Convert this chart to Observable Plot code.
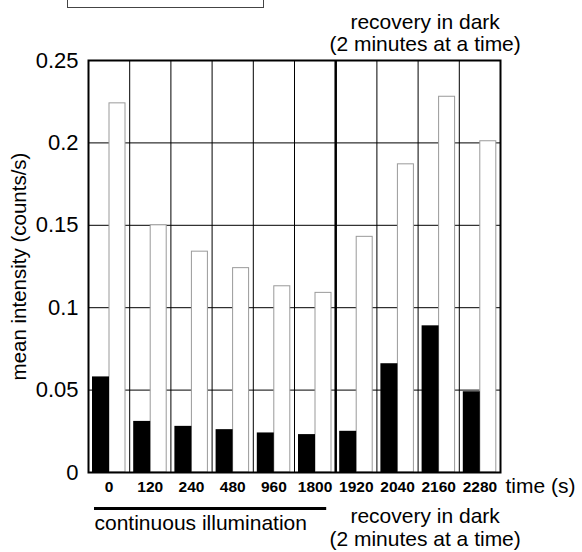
<!DOCTYPE html>
<html>
<head>
<meta charset="utf-8">
<script src="https://cdn.jsdelivr.net/npm/d3@7"></script>
<script src="https://cdn.jsdelivr.net/npm/@observablehq/plot@0.6"></script>
<style>
  html, body { margin: 0; padding: 0; background: #fff; }
  #wrap { position: relative; width: 582px; height: 552px; overflow: hidden; font-family: "Liberation Sans", Arial, sans-serif; }
  #legendbox { position: absolute; left: 67px; top: -22px; width: 195px; height: 28px; border: 1.5px solid #444; background: #fff; }
</style>
</head>
<body>
<div id="wrap"><div id="legendbox"></div></div>
<script>
// ---- data ----
const categories = ["0", "120", "240", "480", "960", "1800", "1920", "2040", "2160", "2280"];
const filledValues = [0.058, 0.031, 0.028, 0.026, 0.024, 0.023, 0.025, 0.066, 0.089, 0.049];
const openValues   = [0.224, 0.150, 0.134, 0.124, 0.113, 0.109, 0.143, 0.187, 0.228, 0.201];
const yTicks = [0, 0.05, 0.1, 0.15, 0.2, 0.25];
const yTickLabels = ["0", "0.05", "0.1", "0.15", "0.2", "0.25"];
const yLabel = "mean intensity (counts/s)";
const xUnitLabel = "time (s)";
const phaseLabels = ["continuous illumination", "recovery in dark\n(2 minutes at a time)"];
const darkStart = "1920";

const data = categories.map((c, i) => ({cat: c, i, filled: filledValues[i], open: openValues[i]}));
const n = categories.length;
const split = categories.indexOf(darkStart);
const centers = d3.range(n).map(i => i + 0.5);
const font = 21;

const chart = Plot.plot({
  width: 582,
  height: 552,
  marginTop: 60,
  marginBottom: 80,
  marginLeft: 88,
  marginRight: 82,
  style: {fontFamily: '"Liberation Sans", Arial, sans-serif', fontSize: font + "px", color: "#000", background: "transparent"},
  x: {domain: [0, n]},
  y: {domain: [0, 0.25]},
  marks: [
    Plot.gridY({ticks: yTicks.slice(1, -1), stroke: "#000", strokeOpacity: 1, strokeWidth: 1}),
    Plot.gridX({ticks: d3.range(1, n), stroke: "#000", strokeOpacity: 1, strokeWidth: 1}),
    Plot.rectY(data, {x1: d => d.i, x2: d => d.i + 1, y: "open", fill: "#fff", stroke: "#9a9a9a", strokeWidth: 1, insetLeft: 21, insetRight: 4.2}),
    Plot.rectY(data, {x1: d => d.i, x2: d => d.i + 1, y: "filled", fill: "#000", insetLeft: 4, insetRight: 20.2}),
    Plot.ruleX([split], {stroke: "#000", strokeWidth: 2.5}),
    Plot.frame({stroke: "#000", strokeWidth: 2}),
    Plot.axisY({ticks: yTicks, tickFormat: d => yTickLabels[yTicks.indexOf(d)], tickSize: 0, tickPadding: 10, label: null, fontSize: 22}),
    Plot.axisX({ticks: centers, tickFormat: d => categories[Math.floor(d)], tickSize: 0, tickPadding: 8, label: null, fontWeight: "bold", fontSize: 15.5}),
    Plot.text([yLabel], {text: d => d, frameAnchor: "left", textAnchor: "middle", lineAnchor: "middle", rotate: -90, dx: -69, fontSize: 20.5}),
    Plot.text([xUnitLabel], {text: d => d, frameAnchor: "bottom-right", textAnchor: "start", lineAnchor: "middle", dx: 5, dy: 14, fontSize: font}),
    // phase annotations
    Plot.ruleY([0], {x1: 0, x2: split, stroke: "#000", strokeWidth: 3, insetLeft: 6, insetRight: 9, dy: 36}),
    Plot.text([phaseLabels[0]], {text: d => d, x: 0, y: 0, textAnchor: "start", lineAnchor: "middle", dx: 6, dy: 51, fontSize: font}),
    Plot.text([phaseLabels[1]], {text: d => d, x: (split + n) / 2, frameAnchor: "bottom", lineAnchor: "middle", dx: 7, dy: 55, lineHeight: 1.07, fontSize: font}),
    Plot.text([phaseLabels[1]], {text: d => d, x: (split + n) / 2, frameAnchor: "top", lineAnchor: "middle", dx: 7, dy: -28, lineHeight: 1.05, fontSize: font})
  ]
});
chart.style.position = "absolute";
chart.style.left = "0px";
chart.style.top = "0px";
document.getElementById("wrap").appendChild(chart);
</script>
</body>
</html>
